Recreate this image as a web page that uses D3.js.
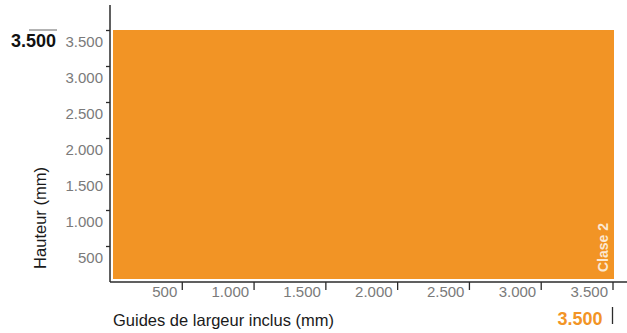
<!DOCTYPE html>
<html>
<head>
<meta charset="utf-8">
<script src="https://cdn.jsdelivr.net/npm/d3@7"></script>
<style>
  html, body { margin: 0; padding: 0; background: #fff; }
  svg { display: block; font-family: "Liberation Sans", Arial, Helvetica, sans-serif; }
</style>
</head>
<body>
<svg id="chart" width="627" height="333"></svg>
<script>
// ---- data ----
const classNames = ["Clase 2"];
const classWidths = [3500];   // mm (largeur)
const classHeights = [3500];  // mm (hauteur)
const xTickValues = [500, 1000, 1500, 2000, 2500, 3000, 3500];
const yTickValues = [500, 1000, 1500, 2000, 2500, 3000, 3500];
const maxHeightLabel = [3500];
const maxWidthLabel = [3500];
const xTitle = "Guides de largeur inclus (mm)";
const yTitle = "Hauteur (mm)";

// ---- setup ----
const W = 627, H = 333;
const orange = "#F29425";
const axisColor = "#2b2b2b";
const tickGray = "#7a7a7a";

const fmt = d3.formatLocale({decimal: ",", thousands: ".", grouping: [3], currency: ["", "€"]}).format(",");

const svg = d3.select("#chart");

const x = d3.scaleLinear().domain([0, 3500]).range([110, 612.5]);
const y = d3.scaleLinear().domain([0, 3500]).range([282, 30]);

// ---- bars (class rectangles) ----
const data = classNames.map((n, i) => ({name: n, w: classWidths[i], h: classHeights[i]}));
svg.append("g").selectAll("rect").data(data).join("rect")
  .attr("x", x(0) + 3)
  .attr("y", d => y(d.h))
  .attr("width", d => x(d.w) + 1.5 - (x(0) + 3))
  .attr("height", d => (y(0) - 3) - y(d.h))
  .attr("fill", orange);

svg.append("g").selectAll("text").data(data).join("text")
  .attr("transform", d => `translate(${x(d.w) - 5},${y(0) - 10}) rotate(-90)`)
  .attr("fill", "#fbe8d2")
  .attr("font-weight", "bold")
  .attr("font-size", 14)
  .attr("text-anchor", "start")
  .text(d => d.name);

// ---- y axis ----
const yAxis = svg.append("g").attr("transform", `translate(${x(0)},0)`)
  .call(d3.axisLeft(y).tickValues(yTickValues).tickSize(4).tickFormat(fmt));
yAxis.select(".domain").remove();
yAxis.selectAll(".tick line").attr("stroke", axisColor).attr("stroke-width", 1.3);
yAxis.selectAll(".tick text")
  .attr("x", -7).attr("dy", null).attr("y", 16)
  .attr("fill", tickGray).attr("font-size", 15)
  .attr("font-family", "'Liberation Sans', Arial, sans-serif");

// ---- x axis ----
const xAxis = svg.append("g").attr("transform", `translate(0,${y(0)})`)
  .call(d3.axisBottom(x).tickValues(xTickValues).tickSize(8).tickFormat(fmt));
xAxis.select(".domain").remove();
xAxis.selectAll(".tick line").attr("stroke", axisColor).attr("stroke-width", 1.3);
xAxis.selectAll(".tick text")
  .attr("x", -5).attr("dy", null).attr("y", 15)
  .attr("text-anchor", "end")
  .attr("fill", tickGray).attr("font-size", 15)
  .attr("font-family", "'Liberation Sans', Arial, sans-serif");

// axis lines
svg.append("line")
  .attr("x1", x(0)).attr("x2", x(0)).attr("y1", 5).attr("y2", y(0))
  .attr("stroke", axisColor).attr("stroke-width", 1.5);
svg.append("line")
  .attr("x1", x(0)).attr("x2", W).attr("y1", y(0)).attr("y2", y(0))
  .attr("stroke", axisColor).attr("stroke-width", 1.5);

// ---- titles ----
svg.append("text")
  .attr("x", x(0) + 3).attr("y", 326)
  .attr("font-size", 16.5).attr("fill", "#1a1a1a")
  .text(xTitle);

svg.append("text")
  .attr("transform", `translate(46,${(y(0) + y(500)) / 2 - 46}) rotate(-90)`)
  .attr("text-anchor", "middle")
  .attr("font-size", 16.5).attr("fill", "#1a1a1a")
  .text(yTitle);

// ---- max annotations ----
svg.append("g").selectAll("text").data(maxHeightLabel).join("text")
  .attr("x", 56).attr("y", d => y(d) + 17)
  .attr("text-anchor", "end")
  .attr("font-weight", "bold").attr("font-size", 18).attr("fill", "#111")
  .text(d => fmt(d));
svg.append("g").selectAll("line").data(maxHeightLabel).join("line")
  .attr("x1", 29).attr("x2", 57).attr("y1", d => y(d)).attr("y2", d => y(d))
  .attr("stroke", "#8a8a8a").attr("stroke-width", 1.3);

svg.append("g").selectAll("text").data(maxWidthLabel).join("text")
  .attr("x", d => x(d) - 10).attr("y", 325)
  .attr("text-anchor", "end")
  .attr("font-weight", "bold").attr("font-size", 18).attr("fill", orange)
  .text(d => fmt(d));
svg.append("g").selectAll("line").data(maxWidthLabel).join("line")
  .attr("x1", d => x(d)).attr("x2", d => x(d)).attr("y1", 307).attr("y2", 324)
  .attr("stroke", axisColor).attr("stroke-width", 1.3);
</script>
</body>
</html>
